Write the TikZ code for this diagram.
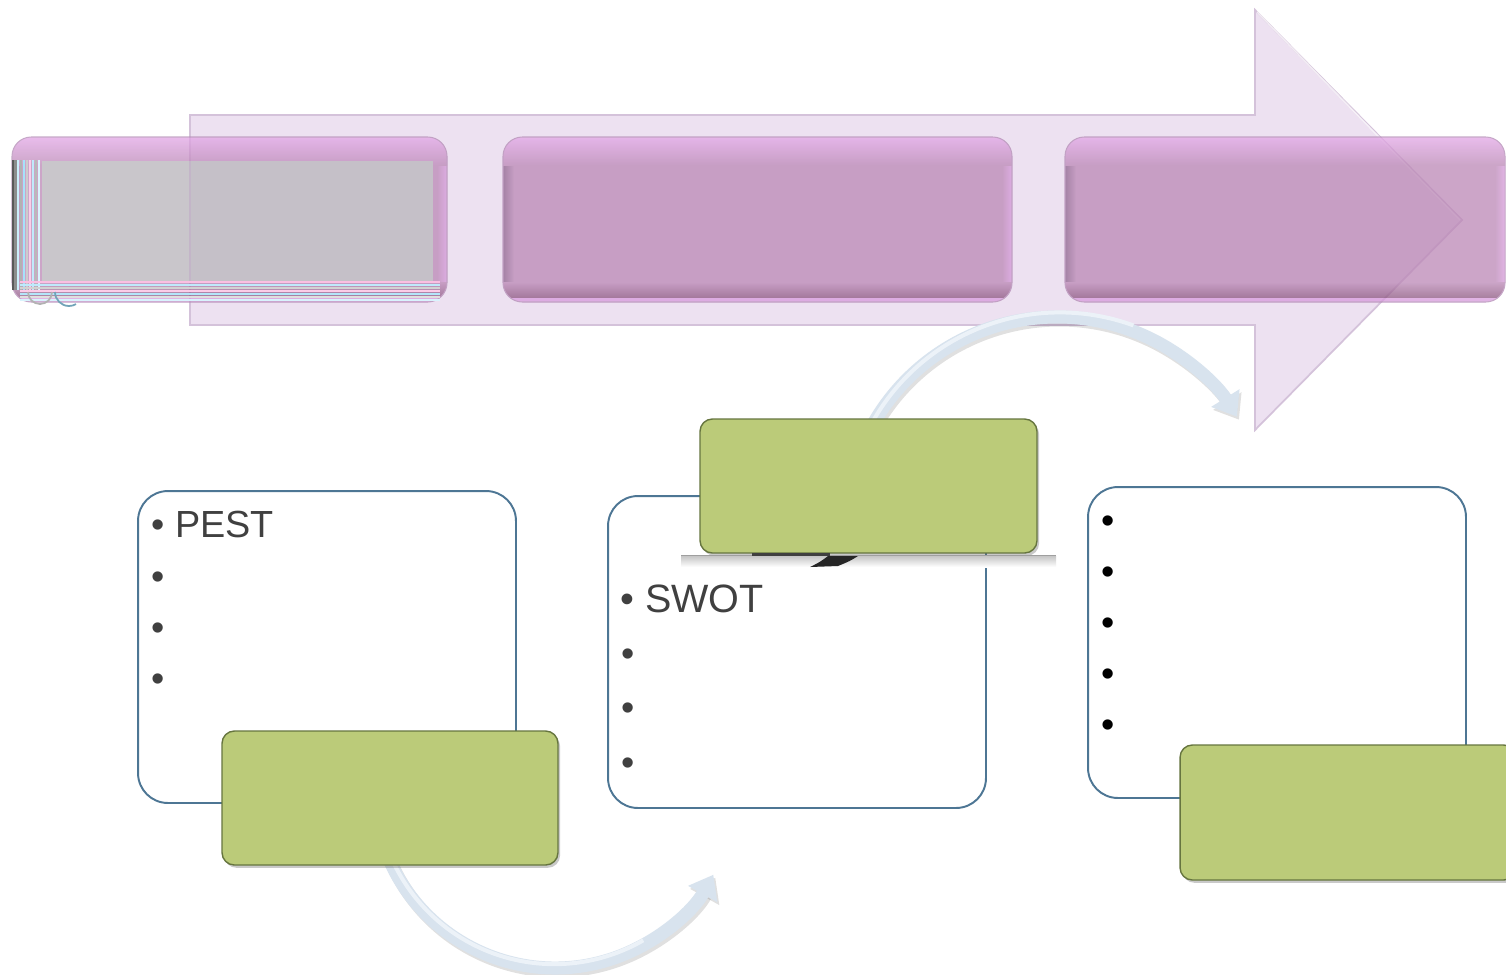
\documentclass[tikz,border=0pt]{standalone}
\usepackage{fontspec}
\setmainfont{Liberation Sans}
\usetikzlibrary{arrows.meta,shadows}

% palette
\definecolor{arrowfill}{HTML}{EDE1F1}
\definecolor{arrowedge}{HTML}{D4C2DA}
\definecolor{stagemain}{HTML}{BB88B6}
\definecolor{stagetop}{HTML}{E2A6E6}
\definecolor{stagelow}{HTML}{8B557F}
\definecolor{stageshade}{HTML}{8C638C}
\definecolor{stagerim}{HTML}{D89BDD}
\definecolor{stageline}{HTML}{B48CB6}
\definecolor{glitchgray}{HTML}{C9C6CB}
\definecolor{glitchgrayb}{HTML}{C5C0C8}
\definecolor{panelblue}{HTML}{4D7694}
\definecolor{leaf}{HTML}{BBCB79}
\definecolor{leafedge}{HTML}{66753F}
\definecolor{arcblue}{HTML}{D8E3EE}
\definecolor{archigh}{HTML}{ECF2F8}
\definecolor{textgray}{HTML}{404040}

% one glossy stage box of the process band
\newcommand\stagebox[5]{%
  \coordinate (#1) at ({(#2+#4)/2},{-(#3+#5)/2});
  \begin{scope}[transparency group, opacity=0.75]
    \fill[stagemain, rounded corners=11pt] (#2,-#3) rectangle (#4,-#5);
    \begin{scope}
      \clip[rounded corners=11pt] (#2,-#3) rectangle (#4,-#5);
      \shade[left color=stageshade, right color=stagemain] (#2,-#3) rectangle ({#2+11},-#5);
      \shade[left color=stagemain, right color=stagerim] ({#4-10},-#3) rectangle (#4,-#5);
      \shade[top color=stagetop, bottom color=stagemain] (#2,-#3) rectangle (#4,{-#3-28});
      \shade[top color=stagemain, bottom color=stagelow] (#2,{-#5+20}) rectangle (#4,{-#5+4});
      \fill[stagerim] (#2,{-#5+4}) rectangle (#4,-#5);
    \end{scope}
    \draw[stageline, line width=0.6pt, rounded corners=11pt] (#2,-#3) rectangle (#4,-#5);
  \end{scope}}

\tikzset{
  panel/.style={draw=panelblue, line width=1.1pt, fill=white, rounded corners=17pt,
    minimum width=7.56cm, minimum height=6.24cm, inner sep=0pt},
  leafbox/.style={draw=leafedge, line width=0.8pt, fill=leaf, rounded corners=7pt,
    minimum width=6.72cm, minimum height=2.68cm, inner sep=0pt,
    drop shadow={shadow xshift=1.2pt, shadow yshift=-1.6pt, opacity=0.35, fill=black!60}},
  flowarc/.style={line width=0.26cm, draw=arcblue,
    -{Triangle[length=0.44cm, width=0.64cm, fill=arcblue]}},
  flowshadow/.style={line width=0.26cm, draw=black, opacity=0.12,
    -{Triangle[length=0.44cm, width=0.64cm]}},
  bulleted/.style={anchor=base west, inner sep=0pt,
    font=\fontsize{21.5}{26}\selectfont, text=textgray},
  bigbulleted/.style={bulleted, font=\fontsize{22.5}{27}\selectfont},
  darkbullet/.style={bulleted, text=black}
}

\begin{document}
\begin{tikzpicture}[x=0.02cm, y=0.02cm]
\clip (0,0) rectangle (1506,-974);
\fill[white] (0,0) rectangle (1506,-974);

% broad process arrow behind the stages
\filldraw[fill=arrowfill, draw=arrowedge, line width=1pt, line join=miter]
  (190,-115) -- (1255,-115) -- (1255,-10) -- (1462,-220) -- (1255,-430)
  -- (1255,-325) -- (190,-325) -- cycle;
\draw[white, opacity=0.7, line width=0.8pt] (1257,-12) -- (1460,-220);

% three stage boxes
\stagebox{stageA}{12}{137}{447}{302}
\stagebox{stageB}{503}{137}{1012}{302}
\stagebox{stageC}{1065}{137}{1505}{302}

% rendering residue of the first stage box
\fill[glitchgray] (42,-161) rectangle (190,-281);
\fill[glitchgrayb] (190,-161) rectangle (433,-281);
\draw[arrowedge!80!gray, line width=0.8pt] (190,-161) -- (190,-281);
\foreach \xx/\cc in {13/black!65, 15.5/black!45, 18/cyan!20, 21/gray!60, 24/cyan!35!white,
                     27/gray!40, 30/magenta!20, 33/cyan!25, 36/gray!55, 39/cyan!15}
  \draw[\cc, line width=1.4pt] (\xx,-160) -- (\xx,-290);
\foreach \yy/\cc in {282/magenta!25, 285/cyan!25, 288/gray!35, 291/magenta!20,
                     294/cyan!30, 297/gray!25, 300/cyan!15}
  \draw[\cc, line width=1.2pt] (20,-\yy) -- (440,-\yy);
\draw[gray!60, line width=1pt] (28,-292) arc[start angle=180, end angle=360, radius=12];
\draw[cyan!40!gray, line width=1pt] (55,-292) arc[start angle=180, end angle=300, radius=14];

% curved flow arrows (shadow first)
\coordinate (arcLs) at (388.4,-857.7);
\coordinate (arcTs) at (870.0,-429.5);
\draw[flowshadow] ([shift={(2,-3)}]arcLs) arc[start angle=203, end angle=331, radius=181];
\draw[flowarc] (arcLs) arc[start angle=203, end angle=331, radius=181];
\draw[archigh, line width=0.08cm] ([shift={(2,2)}]arcLs) arc[start angle=203, end angle=300, radius=178];
\draw[flowshadow] ([shift={(2,-3)}]arcTs) arc[start angle=152, end angle=32, radius=212];
\draw[flowarc] (arcTs) arc[start angle=152, end angle=32, radius=212];
\draw[archigh, line width=0.08cm] ([shift={(0,3)}]arcTs) arc[start angle=152, end angle=70, radius=215];

% content panels
\node[panel] (pestPanel) at (327,-647) {};
\node[panel] (swotPanel) at (797,-652) {};
\node[panel, minimum height=6.22cm] (thirdPanel) at (1277,-642.5) {};

% bullet lines
\node[bulleted] (pest) at (151,-537.5) {• PEST};
\node[bulleted] (pestB) at (151,-589) {•};
\node[bulleted] (pestC) at (151,-640) {•};
\node[bulleted] (pestD) at (151,-691) {•};

\node[bigbulleted] (swot) at (620,-612) {• SWOT};
\node[bulleted] (swotB) at (621,-666) {•};
\node[bulleted] (swotC) at (621,-720) {•};
\node[bulleted] (swotD) at (621,-775) {•};

\node[darkbullet] (thirdA) at (1101,-533) {•};
\node[darkbullet] (thirdB) at (1101,-584) {•};
\node[darkbullet] (thirdC) at (1101,-635) {•};
\node[darkbullet] (thirdD) at (1101,-686) {•};
\node[darkbullet] (thirdE) at (1101,-737) {•};

% green caption boxes
\node[leafbox] (leafL) at (390,-798) {};
\node[leafbox, minimum width=6.74cm] (leafM) at (868.5,-486) {};
\node[leafbox, minimum height=2.7cm] (leafR) at (1348,-812.5) {};

% residue under the middle caption box
\shade[top color=gray!45, bottom color=white] (681,-556) rectangle (1056,-567);
\draw[gray!75, line width=1.1pt] (681,-555.5) -- (1056,-555.5);
\fill[black!75] (752,-553) rectangle (830,-556);
\fill[black!85] (810,-567) .. controls (820,-562) .. (828,-556) -- (858,-556)
  .. controls (850,-561) .. (838,-566) -- cycle;
\end{tikzpicture}
\end{document}
